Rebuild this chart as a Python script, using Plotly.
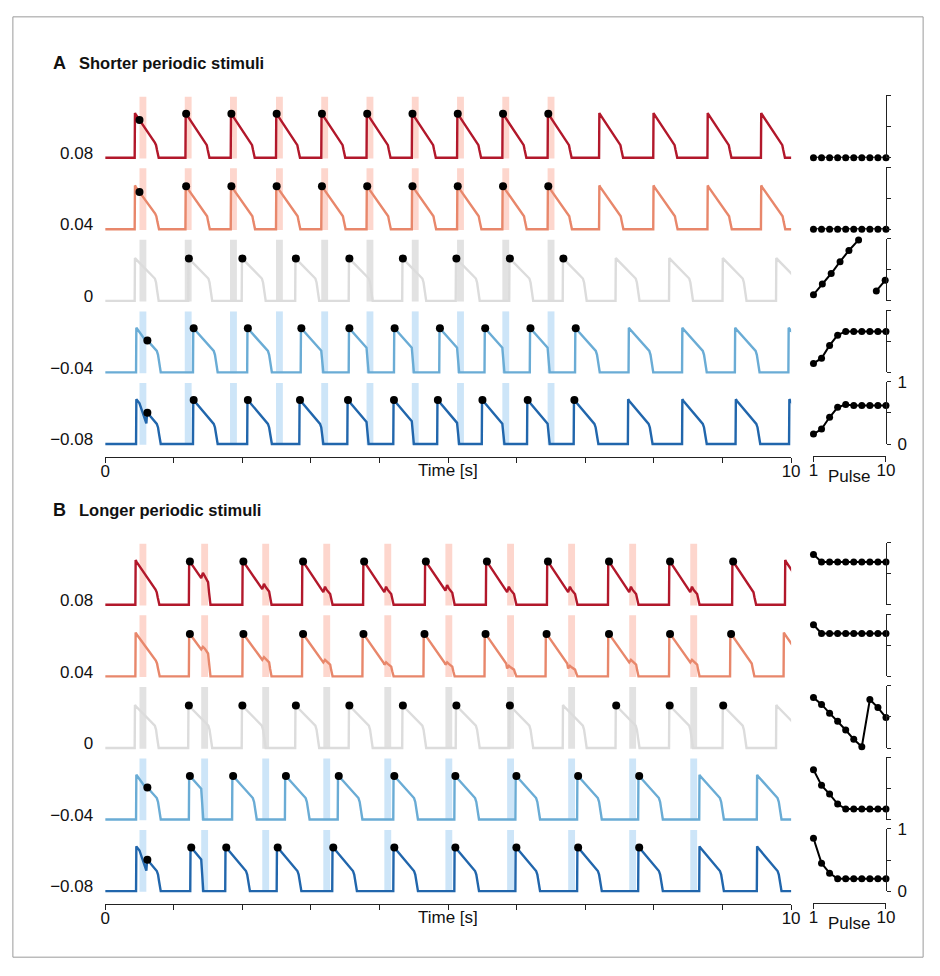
import numpy as np
import plotly.graph_objects as go

W, H = 940, 976

# ---------------- data ----------------
row_levels = [0.08, 0.04, 0.0, -0.04, -0.08]
row_labels = ["0.08", "0.04", "0", "\u22120.04", "\u22120.08"]
line_colors = ["#b2182b", "#e8876b", "#dcdcdc", "#6aacd5", "#2166ac"]
bar_colors = ["#fdd6cd", "#fdd6cd", "#e2e2e2", "#cde5f8", "#cde5f8"]

# stimulus onsets [s]
stim_A = [0.50, 1.16, 1.82, 2.49, 3.15, 3.81, 4.47, 5.13, 5.79, 6.45]
stim_B = [0.50, 1.40, 2.29, 3.18, 4.07, 4.96, 5.86, 6.75, 7.64, 8.53]
stim_dur = 0.10

# action-potential upstroke times [s]
beats_A = [
    [0.43, 1.17, 1.83, 2.49, 3.15, 3.81, 4.47, 5.13, 5.79, 6.45, 7.20, 7.99, 8.78, 9.56],
    [0.43, 1.17, 1.83, 2.49, 3.15, 3.81, 4.47, 5.13, 5.79, 6.45, 7.20, 7.99, 8.78, 9.56],
    [0.43, 1.21, 1.99, 2.77, 3.55, 4.33, 5.11, 5.89, 6.67, 7.44, 8.22, 9.00, 9.78],
    [0.45, 1.28, 2.07, 2.85, 3.55, 4.21, 4.87, 5.53, 6.19, 6.85, 7.63, 8.41, 9.18, 9.96],
    [0.45, 1.28, 2.07, 2.83, 3.53, 4.20, 4.84, 5.49, 6.15, 6.83, 7.62, 8.41, 9.19, 9.97],
]
beats_B = [
    [0.44, 1.22, 2.00, 2.87, 3.76, 4.66, 5.55, 6.44, 7.33, 8.22, 9.14, 9.91],
    [0.44, 1.22, 2.00, 2.87, 3.75, 4.64, 5.53, 6.42, 7.33, 8.22, 9.11, 9.89],
    [0.43, 1.21, 1.99, 2.77, 3.55, 4.33, 5.11, 5.89, 6.67, 7.44, 8.22, 9.00, 9.78],
    [0.45, 1.22, 1.85, 2.62, 3.39, 4.20, 5.09, 5.98, 6.88, 7.77, 8.66, 9.50],
    [0.45, 1.24, 1.75, 2.50, 3.31, 4.20, 5.09, 5.98, 6.88, 7.77, 8.66, 9.50],
]

# marked (black dot) time points [s]
dots_A = [
    [0.50, 1.18, 1.84, 2.50, 3.16, 3.82, 4.48, 5.14, 5.80, 6.46],
    [0.50, 1.18, 1.84, 2.50, 3.16, 3.82, 4.48, 5.14, 5.80, 6.46],
    [1.22, 2.00, 2.78, 3.56, 4.34, 5.12, 5.90, 6.68],
    [0.615, 1.29, 2.08, 2.86, 3.56, 4.22, 4.88, 5.54, 6.20, 6.86],
    [0.615, 1.29, 2.08, 2.84, 3.54, 4.21, 4.85, 5.50, 6.16, 6.84],
]
dots_B = [
    [1.235, 2.015, 2.885, 3.775, 4.675, 5.565, 6.455, 7.345, 8.235, 9.155],
    [1.235, 2.015, 2.885, 3.765, 4.655, 5.545, 6.435, 7.345, 8.235, 9.125],
    [1.22, 2.00, 2.78, 3.56, 4.34, 5.12, 5.90, 7.45, 8.23, 9.01],
    [0.615, 1.235, 1.865, 2.635, 3.405, 4.215, 5.105, 5.995, 6.895, 7.785],
    [0.615, 1.255, 1.765, 2.515, 3.325, 4.215, 5.105, 5.995, 6.895, 7.785],
]

# per-pulse summary (right-hand panels)
pulse_ticks = [1, 10]
pulse = [1, 2, 3, 4, 5, 6, 7, 8, 9, 10]
phase_A_x = [pulse, pulse, [1, 2.1, 3.2, 4.3, 5.4, 6.6, None, 8.8, 9.9], pulse, pulse]
phase_A = [
    [0.0] * 10,
    [0.0] * 10,
    [0.10, 0.27, 0.44, 0.63, 0.81, 0.98, None, 0.16, 0.33],
    [0.145, 0.23, 0.435, 0.60, 0.66, 0.66, 0.66, 0.66, 0.66, 0.66],
    [0.16, 0.24, 0.43, 0.59, 0.635, 0.62, 0.62, 0.62, 0.62, 0.62],
]
phase_B_x = [pulse, pulse, pulse, pulse, pulse]
phase_B = [
    [0.81, 0.69, 0.69, 0.69, 0.69, 0.69, 0.69, 0.69, 0.69, 0.69],
    [0.83, 0.69, 0.69, 0.69, 0.69, 0.69, 0.69, 0.69, 0.69, 0.69],
    [0.81, 0.70, 0.56, 0.43, 0.29, 0.14, 0.02, 0.78, 0.65, 0.49],
    [0.80, 0.55, 0.41, 0.25, 0.17, 0.17, 0.17, 0.17, 0.17, 0.17],
    [0.85, 0.45, 0.29, 0.20, 0.20, 0.20, 0.20, 0.20, 0.20, 0.20],
]

# action potential shape per row
ap_amp = [0.025, 0.0245, 0.024, 0.025, 0.025]
ap_dur = [0.35, 0.355, 0.35, 0.36, 0.36]
ap_plateau = [0.34, 0.36, 0.52, 0.48, 0.45]
rest_offset = -0.0027

# ---------------- helpers ----------------
def pxx(p):
    return p / W


def pyy(p):
    return 1 - p / H


def ap_shape(tu, dur, plateau, amp):
    ft = np.array([0.0, 0.012, 0.05, 0.84, 0.89, 0.93, 0.965, 1.0])
    k = 1.0 - plateau
    fv = np.array([0.0, 1.0, 0.97, plateau, 0.82 * plateau, 0.5 * plateau,
                   0.15 * plateau, 0.0])
    fv[2] = 1.0 - 0.04 * k / 0.66
    return list(tu + ft * dur), list(fv * amp)


def build_trace(beats, stims, level, dur, plateau, amp):
    T, V = [0.0], [0.0]
    for tu in beats:
        t, v = ap_shape(tu, dur, plateau, amp)
        for s in stims:
            dt = s - tu
            if level == 0 or not (-0.02 < dt < dur - 0.02):
                continue
            vs = float(np.interp(s, t, v))
            head = [(a, b) for a, b in zip(t, v) if a < s - 1e-6]
            if dt < 0.12:
                if level < 0:
                    dip = 0.45 * amp * abs(level) / 0.08
                    te = s + stim_dur + 0.012
                    ve = float(np.interp(te, t, v))
                    tail = [(a, b) for a, b in zip(t, v) if a > te + 1e-6]
                    pts = head + [(s, vs), (s + stim_dur, vs - dip), (te, ve)] + tail
                else:
                    continue
            else:
                if level > 0:
                    bump = 0.12 * amp * level / 0.08
                    pts = head + [(s, vs), (s + 0.025, vs + bump),
                                  (s + 0.05, vs + 0.4 * bump),
                                  (s + stim_dur, 0.85 * vs),
                                  (s + stim_dur + 0.015, 0.45 * vs),
                                  (s + stim_dur + 0.035, 0.0)]
                else:
                    pts = head + [(s, vs), (s + 0.015, 0.5 * vs), (s + 0.03, 0.0)]
            t = [p[0] for p in pts]
            v = [p[1] for p in pts]
            break
        T += t
        V += v
    T.append(10.5)
    V.append(0.0)
    return np.array(T), np.array(V)


# ---------------- figure ----------------
fig = go.Figure()

TX0, TX1 = 101.7, 798.0
PX0, PX1 = 820.7, 894.3
TOP_A, BOT_A = 85.0, 457.0
BASE0 = 151.7
ROW_STEP = 73.0
PX_PER_UNIT = ROW_STEP / 0.04
PANEL_DY = 456.0
label_c0 = BASE0 - 5.0
y_lo = 0.08 - (BOT_A - label_c0) / PX_PER_UNIT
y_hi = 0.08 + (label_c0 - TOP_A) / PX_PER_UNIT

panels = [
    dict(stims=stim_A, beats=beats_A, dots=dots_A, px=phase_A_x, ph=phase_A,
         xa="x", ya="y", xr="x3", yr0=3, dy=0.0),
    dict(stims=stim_B, beats=beats_B, dots=dots_B, px=phase_B_x, ph=phase_B,
         xa="x2", ya="y2", xr="x4", yr0=8, dy=PANEL_DY),
]

layout = dict(
    width=W, height=H, autosize=False,
    margin=dict(l=0, r=0, t=0, b=0),
    paper_bgcolor="white", plot_bgcolor="white",
    showlegend=False, barmode="overlay",
    font=dict(family="Liberation Sans, Arial, sans-serif", size=17, color="#111"),
)

axis_common = dict(showgrid=False, zeroline=False, linecolor="#222", tickcolor="#222",
                   linewidth=1.2, tickwidth=1.2)

annotations = []
shapes = [dict(type="rect", xref="paper", yref="paper",
               x0=pxx(8), x1=pxx(932), y0=pyy(967), y1=pyy(8),
               line=dict(color="#9a9a9a", width=1))]

for pi, P in enumerate(panels):
    dy = P["dy"]
    for r in range(5):
        lev = row_levels[r]
        base = lev + rest_offset
        # stimulus bars
        fig.add_trace(go.Bar(
            x=[s + stim_dur / 2 for s in P["stims"]],
            y=[0.0345] * len(P["stims"]),
            base=[base - 0.0004] * len(P["stims"]),
            width=[stim_dur] * len(P["stims"]),
            marker=dict(color=bar_colors[r], line=dict(width=0)),
            xaxis=P["xa"], yaxis=P["ya"], hoverinfo="skip"))
    for r in range(5):
        lev = row_levels[r]
        base = lev + rest_offset
        T, V = build_trace(P["beats"][r], P["stims"], lev, ap_dur[r], ap_plateau[r], ap_amp[r])
        fig.add_trace(go.Scatter(
            x=T, y=V + base, mode="lines",
            line=dict(color=line_colors[r], width=2.4),
            xaxis=P["xa"], yaxis=P["ya"], hoverinfo="skip"))
        dt = np.array(P["dots"][r])
        fig.add_trace(go.Scatter(
            x=dt, y=np.interp(dt, T, V) + base, mode="markers",
            marker=dict(color="black", size=8),
            xaxis=P["xa"], yaxis=P["ya"], hoverinfo="skip", cliponaxis=False))
        # right-hand summary
        yr = "y%d" % (P["yr0"] + r)
        fig.add_trace(go.Scatter(
            x=P["px"][r], y=P["ph"][r], mode="lines+markers",
            line=dict(color="black", width=2), marker=dict(color="black", size=7),
            connectgaps=False, xaxis=P["xr"], yaxis=yr, hoverinfo="skip", cliponaxis=False))

        bot = BASE0 + ROW_STEP * r + dy
        top = bot - 63.5
        yax = dict(axis_common, domain=[pyy(bot), pyy(top)], range=[0, 1], anchor=P["xr"],
                   side="right", showline=True, ticks="outside", ticklen=4,
                   tickvals=[0, 0.5, 1])
        if r == 4:
            yax.update(ticktext=["0", "", "1"], showticklabels=True, ticklabelstandoff=3)
        else:
            yax.update(showticklabels=False)
        layout["yaxis%d" % (P["yr0"] + r)] = yax

    # main trace axes
    xname = "xaxis" if pi == 0 else "xaxis2"
    yname = "yaxis" if pi == 0 else "yaxis2"
    layout[xname] = dict(axis_common, domain=[pxx(TX0), pxx(TX1)], range=[0, 10],
                         anchor=P["ya"], showline=True, ticks="outside", ticklen=5,
                         tickvals=list(range(11)),
                         ticktext=["0"] + [""] * 9 + ["10"], ticklabelstandoff=-7)
    layout[yname] = dict(axis_common, domain=[pyy(BOT_A + dy), pyy(TOP_A + dy)],
                         range=[y_lo, y_hi], anchor=P["xa"], showline=False, ticks="",
                         tickvals=row_levels, ticktext=row_labels, ticklabelstandoff=11)
    rname = "xaxis3" if pi == 0 else "xaxis4"
    layout[rname] = dict(axis_common, domain=[pxx(PX0), pxx(PX1)], range=[1, 10],
                         anchor="free", position=pyy(456 + dy), showline=True,
                         ticks="outside", ticklen=5, tickvals=pulse_ticks,
                         ticktext=["1", "10"], ticklabelstandoff=-7)

    annotations += [
        dict(text="Time [s]", x=pxx((TX0 + TX1) / 2), y=pyy(471 + dy), xref="paper",
             yref="paper", showarrow=False, xanchor="center", yanchor="middle",
             font=dict(size=17)),
        dict(text="Pulse", x=pxx((PX0 + PX1) / 2), y=pyy(477 + dy), xref="paper",
             yref="paper", showarrow=False, xanchor="center", yanchor="middle",
             font=dict(size=17)),
        dict(text="<b>%s</b>" % ("A" if pi == 0 else "B"), x=pxx(47), y=pyy(55 + dy),
             xref="paper", yref="paper", showarrow=False, xanchor="left",
             yanchor="middle", font=dict(size=18)),
        dict(text="<b>%s</b>" % ("Shorter periodic stimuli" if pi == 0 else "Longer periodic stimuli"),
             x=pxx(73), y=pyy(55 + dy), xref="paper", yref="paper", showarrow=False,
             xanchor="left", yanchor="middle", font=dict(size=16.5)),
    ]

layout["annotations"] = annotations
layout["shapes"] = shapes
fig.update_layout(**layout)
fig.write_html("out.html")
